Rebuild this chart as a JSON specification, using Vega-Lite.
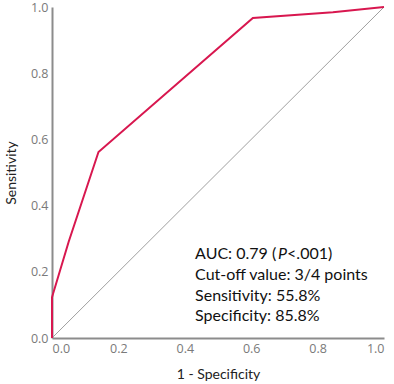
{
  "$schema": "https://vega.github.io/schema/vega-lite/v6.json",
  "width": 332,
  "height": 331,
  "autosize": {"type": "none"},
  "padding": {"left": 52, "top": 7, "right": 10, "bottom": 46},
  "background": "white",
  "config": {
    "view": {"stroke": null},
    "font": "Open Sans",
    "axis": {
      "grid": false,
      "ticks": false,
      "domainColor": "#8c8c8c",
      "domainWidth": 2,
      "labelColor": "#7a7a7a",
      "labelFontSize": 12.5,
      "labelFont": "Open Sans",
      "titleFont": "Lato",
      "titleFontWeight": "normal",
      "titleFontSize": 14,
      "titleColor": "#222222"
    }
  },
  "datasets": {
    "roc": [
      {"fpr": 0.0, "tpr": 0.0},
      {"fpr": 0.0, "tpr": 0.123},
      {"fpr": 0.05, "tpr": 0.29},
      {"fpr": 0.14, "tpr": 0.562},
      {"fpr": 0.605, "tpr": 0.967},
      {"fpr": 0.846, "tpr": 0.984},
      {"fpr": 1.0, "tpr": 1.0}
    ],
    "ref": [
      {"fpr": 0.0, "tpr": 0.0},
      {"fpr": 1.0, "tpr": 1.0}
    ],
    "notes": [
      {"x": 0.431, "y": 0.255, "label": "AUC: 0.79 ("},
      {"x": 0.431, "y": 0.189, "label": "Cut-off value: 3/4 points"},
      {"x": 0.431, "y": 0.126, "label": "Sensitivity: 55.8%"},
      {"x": 0.431, "y": 0.066, "label": "Specificity: 85.8%"}
    ],
    "pnote": [
      {"x": 0.431, "y": 0.255, "label": "P"}
    ],
    "pnote2": [
      {"x": 0.431, "y": 0.255, "label": "<.001)"}
    ]
  },
  "layer": [
    {
      "data": {"name": "ref"},
      "mark": {"type": "line", "color": "#a0a0a0", "strokeWidth": 1},
      "encoding": {
        "x": {
          "field": "fpr", "type": "quantitative",
          "scale": {"domain": [0, 1], "nice": false},
          "axis": {"values": [0, 0.2, 0.4, 0.6, 0.8, 1.0], "format": ".1f", "labelPadding": 4, "title": "1 - Specificity", "titlePadding": 13}
        },
        "y": {
          "field": "tpr", "type": "quantitative",
          "scale": {"domain": [0, 1], "nice": false},
          "axis": {"values": [0, 0.2, 0.4, 0.6, 0.8, 1.0], "format": ".1f", "labelPadding": 4, "title": "Sensitivity", "titlePadding": 12}
        }
      }
    },
    {
      "data": {"name": "roc"},
      "mark": {"type": "line", "color": "#d8174f", "strokeWidth": 2},
      "encoding": {
        "x": {"field": "fpr", "type": "quantitative"},
        "y": {"field": "tpr", "type": "quantitative"}
      }
    },
    {
      "data": {"name": "notes"},
      "mark": {"type": "text", "align": "left", "baseline": "middle", "fontSize": 16, "font": "Lato", "color": "#111111"},
      "encoding": {
        "x": {"field": "x", "type": "quantitative"},
        "y": {"field": "y", "type": "quantitative"},
        "text": {"field": "label"}
      }
    },
    {
      "data": {"name": "pnote"},
      "mark": {"type": "text", "align": "left", "baseline": "middle", "fontSize": 16, "font": "Lato", "fontStyle": "italic", "color": "#111111", "dx": 83},
      "encoding": {
        "x": {"field": "x", "type": "quantitative"},
        "y": {"field": "y", "type": "quantitative"},
        "text": {"field": "label"}
      }
    },
    {
      "data": {"name": "pnote2"},
      "mark": {"type": "text", "align": "left", "baseline": "middle", "fontSize": 16, "font": "Lato", "color": "#111111", "dx": 92},
      "encoding": {
        "x": {"field": "x", "type": "quantitative"},
        "y": {"field": "y", "type": "quantitative"},
        "text": {"field": "label"}
      }
    }
  ]
}
